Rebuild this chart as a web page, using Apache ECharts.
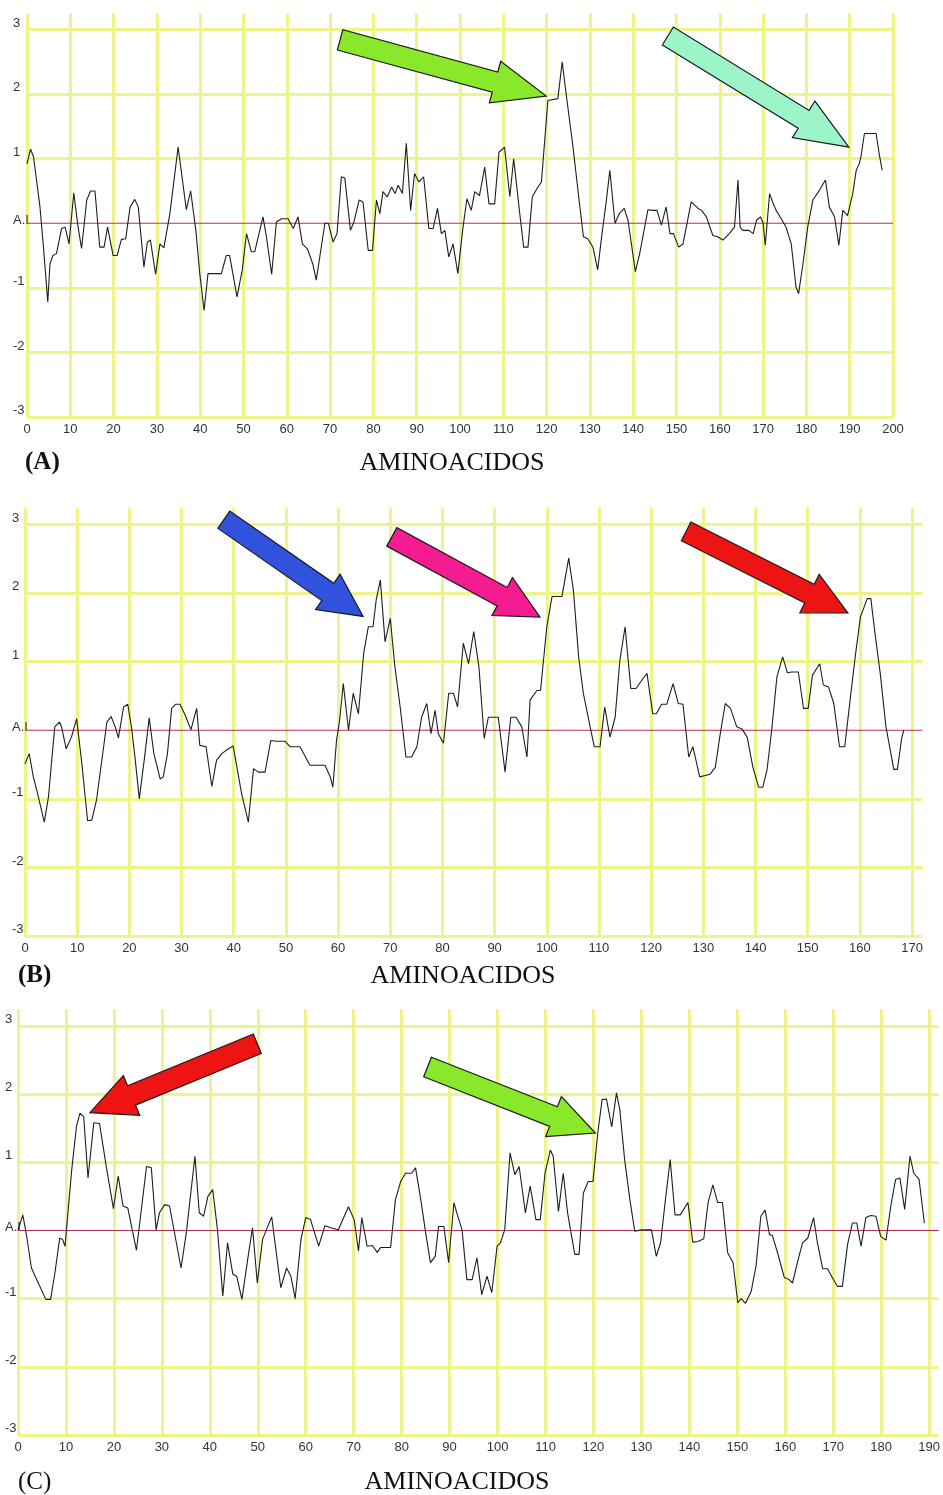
<!DOCTYPE html>
<html><head><meta charset="utf-8">
<script src="https://cdn.jsdelivr.net/npm/echarts@6/dist/echarts.min.js"></script>
<style>html,body{margin:0;padding:0;background:#fff}#c{width:943px;height:1495px}</style>
</head><body><div id="c"></div>
<script>
// ---- data (x = residue position, y = hydropathy index) ----
const yTickLabels = {'-3':'-3','-2':'-2','-1':'-1','0':'A.I','1':'1','2':'2','3':'3'};
const xAxisLabelName = 'AMINOACIDOS';
const panelTags = ['(A)','(B)','(C)'];
const xMaxTick = [200,170,190];
const zeroLevel = 0;

const profileA = [[0,0.92],[0.8,1.15],[1.5,1.03],[2.2,0.67],[3,0.25],[3.8,-0.37],[4.8,-1.22],[5.3,-0.63],[6,-0.5],[6.8,-0.47],[8,-0.08],[8.8,-0.06],[9.7,-0.32],[10.8,0.47],[11.8,-0.06],[12.6,-0.39],[13.8,0.36],[14.7,0.5],[15.7,0.5],[16.8,-0.37],[17.8,-0.37],[18.6,-0.06],[19.9,-0.5],[20.8,-0.5],[21.8,-0.25],[22.8,-0.24],[23.8,0.25],[24.9,0.37],[25.7,0.25],[27,-0.68],[27.8,-0.29],[28.5,-0.26],[29.7,-0.79],[30.7,-0.32],[31.6,-0.38],[33,0.15],[34.9,1.18],[35.7,0.77],[36.8,0.21],[37.8,0.5],[39,-0.11],[39.9,-0.78],[40.9,-1.35],[41.8,-0.78],[44.9,-0.78],[46,-0.5],[46.8,-0.5],[48.5,-1.14],[49.7,-0.73],[50.7,-0.16],[51.8,-0.44],[52.6,-0.44],[54.5,0.1],[55.3,-0.21],[56.5,-0.79],[57.6,0.02],[58.8,0.07],[60.3,0.07],[61.5,-0.08],[62.6,0.1],[63.6,-0.32],[64.8,-0.4],[66,-0.63],[66.8,-0.88],[68.8,0],[69.6,0],[70.7,-0.29],[71.6,-0.16],[72.6,0.72],[73.4,0.7],[74.7,-0.11],[75.5,0.02],[76.7,0.36],[77.6,0.33],[78.8,-0.42],[79.8,-0.42],[80.7,0.36],[81.5,0.15],[82.2,0.49],[83.2,0.41],[84.2,0.56],[85,0.46],[85.7,0.59],[86.7,0.46],[87.6,1.24],[88.6,0.2],[89.5,0.77],[90.5,0.64],[91.6,0.72],[92.8,-0.08],[93.8,-0.08],[94.8,0.23],[95.7,-0.16],[96.5,-0.11],[97.4,-0.52],[98.4,-0.32],[99.5,-0.78],[100.7,-0.06],[101.6,0.38],[102.6,0.2],[103.4,0.49],[104.5,0.43],[105.7,0.87],[106.7,0.3],[108,0.3],[109,1.1],[110.3,1.18],[111.5,0.41],[112.4,1.0],[113.8,0.15],[114.7,-0.37],[115.7,-0.37],[116.7,0.41],[117.8,0.54],[118.8,0.64],[120.3,1.9],[122.6,1.93],[123.6,2.5],[124.5,2.01],[126.1,1.18],[127.5,0.36],[128.5,-0.21],[129.5,-0.24],[130.7,-0.37],[131.8,-0.72],[132.8,-0.16],[133.8,0.35],[134.6,0.82],[135.8,0],[136.8,0.15],[137.9,0.23],[138.8,0.05],[140.5,-0.75],[141.5,-0.47],[143.4,0.21],[144.5,0.2],[145.5,0.2],[146.5,-0.03],[147.6,0.25],[148.5,-0.16],[149.3,-0.16],[150.5,-0.37],[151.5,-0.32],[153.4,0.33],[155,0.23],[155.8,0.2],[156.9,0.1],[158.4,-0.19],[159.5,-0.21],[160.7,-0.26],[162.2,-0.16],[163.4,-0.06],[164.2,0.67],[164.7,-0.06],[165.3,-0.11],[166.7,-0.11],[167.7,-0.16],[168.5,0.05],[169.4,0.1],[170,0],[170.5,-0.34],[171.5,0.46],[172.2,0.33],[173,0.2],[174.2,0.07],[175.3,-0.06],[176.5,-0.32],[177.6,-0.99],[178.2,-1.09],[179.2,-0.63],[180.3,-0.06],[181.5,0.36],[183,0.51],[184.4,0.67],[185.3,0.25],[186.5,0.1],[187.5,-0.34],[188.4,0.2],[189.5,0.12],[190.7,0.46],[191.5,0.82],[192.2,0.92],[192.6,1.03],[193.4,1.39],[196.1,1.39],[196.8,1.08],[197.5,0.82]];

const profileB = [[0,-0.49],[0.8,-0.34],[1.6,-0.68],[2.4,-0.92],[3.7,-1.34],[4.5,-0.97],[5.7,0.05],[6.6,0.12],[7,0.05],[7.9,-0.27],[8.9,-0.1],[9.9,0.17],[10.9,-0.49],[12,-1.32],[12.8,-1.31],[13.7,-1.02],[15.7,0.12],[16.5,0.2],[17.3,0.05],[17.9,-0.11],[18.9,0.34],[19.7,0.38],[20.4,0.05],[21.1,-0.41],[21.9,-1.0],[23,-0.34],[23.8,0.18],[24.7,-0.34],[25.9,-0.71],[26.5,-0.68],[27.3,-0.34],[28.1,0.32],[28.9,0.38],[29.7,0.38],[30.7,0.22],[31.8,0.01],[32.9,0.32],[33.5,-0.22],[34.7,-0.24],[35.8,-0.82],[36.7,-0.44],[37.7,-0.34],[39,-0.27],[39.9,-0.23],[41.5,-0.92],[42.8,-1.34],[43.8,-0.56],[44.7,-0.61],[46,-0.61],[47.1,-0.15],[48.2,-0.16],[49.8,-0.16],[50.8,-0.24],[52.7,-0.24],[54.6,-0.51],[57.5,-0.51],[58.5,-0.68],[59,-0.83],[59.7,-0.15],[60.3,0.15],[61,0.68],[62,0],[62.9,0.54],[63.9,0.24],[64.9,1.12],[65.8,1.51],[66.7,1.51],[67.3,1.9],[68.1,2.19],[69,1.29],[70,1.63],[70.9,0.92],[71.9,0.34],[73,-0.39],[74.1,-0.39],[75.1,-0.24],[76,0.19],[77,0.39],[77.8,-0.05],[78.6,0.29],[79.2,-0.05],[80.2,-0.19],[81.2,0.54],[82.1,0.54],[82.9,0.34],[84,1.27],[85,0.97],[86,1.44],[87,0.92],[88,-0.12],[88.8,0.19],[90.7,0.19],[92,-0.61],[93.1,0.19],[94.1,0.19],[95.2,0.05],[96.2,-0.39],[96.8,0.44],[98.1,0.58],[98.8,0.58],[100,1.51],[101,1.95],[102.9,1.95],[104.2,2.51],[105.1,2.04],[106.1,1.07],[107,0.54],[108.3,0.05],[109.1,-0.24],[110.2,-0.24],[111.1,0.34],[112.1,-0.1],[113.1,0.19],[114,1.02],[115,1.51],[116.1,0.61],[117.1,0.61],[118.2,0.73],[119.2,0.83],[120.3,0.24],[121,0.24],[122,0.38],[123,0.38],[124.2,0.68],[125.2,0.39],[126.1,0.38],[127.2,-0.39],[128,-0.24],[129.3,-0.68],[131.3,-0.64],[132.3,-0.54],[133.2,-0.07],[134.2,0.39],[135.2,0.32],[136.4,0.05],[137.4,0.02],[138.4,-0.1],[139.5,-0.54],[140.6,-0.83],[141.4,-0.83],[142.2,-0.58],[143.1,0],[144.1,0.78],[145.2,1.07],[146.1,0.84],[146.9,0.85],[148.2,0.85],[149.2,0.32],[150.1,0.32],[150.9,0.8],[152.3,0.97],[153,0.66],[154,0.63],[155,0.39],[156.1,-0.24],[157.1,-0.24],[158.2,0.49],[159.1,1.07],[160.1,1.65],[161.4,1.92],[162.1,1.92],[162.9,1.41],[163.9,0.83],[165,0.05],[166.5,-0.57],[167.2,-0.57],[168,-0.12],[168.4,0]];

const profileC = [[0,0],[1,0.23],[1.8,-0.08],[2.8,-0.55],[3.9,-0.72],[5.8,-1.01],[6.8,-1.01],[7.7,-0.62],[8.7,-0.11],[9.3,-0.13],[9.8,-0.23],[10.1,0.01],[11.2,0.89],[12.2,1.53],[12.9,1.72],[13.7,1.67],[14.6,0.77],[15.8,1.58],[17,1.57],[18.4,0.94],[19.9,0.32],[20.9,0.8],[21.9,0.36],[22.9,0.33],[24.7,-0.29],[26.8,0.94],[27.8,0.92],[28.8,0.01],[29.5,0.26],[30.6,0.38],[31.6,0.36],[34,-0.55],[35.1,-0.03],[36,0.53],[36.9,1.09],[37.8,0.26],[38.7,0.21],[39.6,0.5],[40.6,0.6],[41.6,0.01],[42.7,-0.96],[43.7,-0.18],[44.8,-0.64],[45.6,-0.67],[46.7,-1.01],[47.9,-0.42],[48.9,0.04],[49.9,-0.77],[51,-0.13],[52.9,0.2],[54.8,-0.84],[56,-0.55],[56.9,-0.67],[57.8,-1.0],[59,-0.13],[60,0.19],[61,0.16],[62.7,-0.23],[64,0.07],[65.2,0.04],[66.8,0.01],[68.9,0.35],[70.1,0.16],[71,-0.3],[71.7,0.19],[72.8,-0.23],[73.9,-0.22],[74.9,-0.32],[75.6,-0.25],[77.7,-0.25],[78.7,0.45],[79.8,0.72],[80.8,0.84],[82.1,0.84],[82.9,0.92],[84,0.45],[85,-0.03],[86,-0.47],[87,-0.38],[87.7,0.06],[88.8,0.06],[89.8,-0.47],[90.9,0.41],[91.5,0.26],[92.6,0.01],[93.6,-0.72],[94.7,-0.72],[95.7,-0.4],[96.7,-0.94],[97.8,-0.67],[98.8,-0.91],[99.9,-0.23],[100.6,-0.18],[101.5,0.01],[102.6,1.14],[103.6,0.82],[104.5,0.94],[105.8,0.26],[106.8,0.65],[108,0.16],[108.9,0.16],[109.9,0.84],[111,1.18],[111.6,1.09],[112.7,0.28],[113.7,0.84],[114.6,0.26],[116.1,-0.35],[117,-0.35],[117.9,0.55],[118.9,0.72],[119.9,0.72],[120.9,1.43],[121.8,1.92],[122.7,1.93],[123.8,1.52],[124.8,2.02],[125.5,1.77],[126.5,1.04],[127.6,0.45],[128.6,-0.01],[130,0.01],[132.1,0.01],[133.1,-0.38],[134,-0.18],[135,0.45],[136,1.04],[137,0.23],[138.1,0.23],[139.7,0.41],[140.7,-0.17],[141.8,-0.16],[143,-0.12],[143.9,0.41],[144.9,0.67],[145.9,0.41],[146.9,0.41],[148,-0.33],[149.1,-0.47],[150.1,-1.06],[150.8,-1.0],[151.7,-1.07],[152.9,-0.89],[153.9,-0.52],[154.9,0.21],[155.8,0.3],[156.7,-0.06],[157.3,-0.07],[158.4,-0.33],[159.8,-0.69],[160.8,-0.72],[161.5,-0.77],[162.6,-0.45],[163.6,-0.18],[164.7,-0.11],[165.9,0.19],[166.7,-0.18],[167.8,-0.56],[168.8,-0.56],[169.8,-0.69],[170.9,-0.82],[171.9,-0.82],[173,-0.2],[174,0.11],[174.9,0.11],[175.8,-0.23],[176.8,0.19],[177.8,0.22],[178.9,0.21],[179.9,-0.09],[181,-0.14],[182,0.36],[183,0.75],[183.9,0.77],[184.9,0.31],[186,1.09],[186.8,0.84],[187.9,0.75],[189,0.11]];

// annotation arrows, tail and tip in data coordinates of their panel
const arrowsA = [{tail:[72.3,2.84], tip:[119.9,1.97], color:'#8ae82a'},
                 {tail:[148,2.9],   tip:[189.8,1.18], color:'#9cf5c9'}];
const arrowsB = [{tail:[38.1,3.07], tip:[64.8,1.66],  color:'#3152dc'},
                 {tail:[70.3,2.82], tip:[98.7,1.65],  color:'#f51c92'},
                 {tail:[126.7,2.9], tip:[157.7,1.71], color:'#ee1414'}];
const arrowsC = [{tail:[49.9,2.74], tip:[15,1.73],    color:'#ee1414'},
                 {tail:[85.4,2.4],  tip:[120.4,1.43], color:'#8ae82a'}];

// ---- layout / style ----
const YELLOW = '#eff488';
const NONE = 'rgba(0,0,0,0)';
const layout = [
  {grid:{left:27, right:50,  top:13.4,  bottom:1078}, xMax:200, xEnd:200, yMargin:14, head:53, tag:{x:25,y:463,bold:true}, name:{x:452,y:463}},
  {grid:{left:25, right:20.5,top:507.4, bottom:559},  xMax:172, xEnd:172, yMargin:13, head:43, tag:{x:18,y:976,bold:true}, name:{x:463,y:976}},
  {grid:{left:18, right:1.5, top:1009,  bottom:60},   xMax:192, xEnd:192, yMargin:13, head:45, tag:{x:18,y:1482,bold:false}, name:{x:457,y:1482}}
];
const profiles = [profileA, profileB, profileC];
const arrowSets = [arrowsA, arrowsB, arrowsC];

const chart = echarts.init(document.getElementById('c'), null, {renderer:'canvas'});

function lineColors(n){ // last line (non-tick extent end) invisible
  const a = []; for (let i=0;i<n;i++) a.push(YELLOW); a.push(NONE); return a;
}
// y split lines: -3,-2,-1,(0 = red reference line instead),1,2,3,(extent end)
const ySplitColors = [YELLOW, YELLOW, YELLOW, NONE, YELLOW, YELLOW, YELLOW, NONE];

const series = [];
profiles.forEach((p,i) => {
  series.push({type:'line', xAxisIndex:i, yAxisIndex:i, z:4, symbol:'none', showSymbol:false, silent:true,
    data:[[0,zeroLevel],[layout[i].xEnd,zeroLevel]], lineStyle:{color:'#b0305a', width:1.2}});
  series.push({type:'line', xAxisIndex:i, yAxisIndex:i, z:5, data:p, symbol:'none', showSymbol:false,
    lineStyle:{color:'#1e1e1e', width:1.1}});
});

const option = {
  animation:false,
  backgroundColor:'#ffffff',
  grid: layout.map(l => Object.assign({containLabel:false}, l.grid)),
  xAxis: layout.map((l,i) => ({
    type:'value', gridIndex:i, min:0, max:l.xMax, interval:10,
    axisLine:{show:false, onZero:false}, axisTick:{show:false},
    splitLine:{show:true, lineStyle:{color: (l.xMax % 10 === 0) ? [YELLOW] : lineColors(Math.floor(l.xMax/10)+1), width:3}},
    axisLabel:{show:true, margin:6, color:'#333', fontSize:13, fontFamily:'Liberation Sans, Arial, sans-serif',
      formatter: v => (v % 10 === 0 && v <= xMaxTick[i]) ? String(v) : ''}
  })),
  yAxis: layout.map((l,i) => ({
    type:'value', gridIndex:i, min:-3, max:3.25, interval:1,
    axisLine:{show:false, onZero:false}, axisTick:{show:false},
    splitLine:{show:true, lineStyle:{color: ySplitColors, width:3}},
    axisLabel:{show:true, align:'left', verticalAlign:'bottom', margin:l.yMargin, color:'#333', fontSize:13,
      fontFamily:'Liberation Sans, Arial, sans-serif',
      rich:{ai:{lineHeight:6, fontSize:13, color:'#333', fontFamily:'Liberation Sans, Arial, sans-serif'}},
      formatter: v => { const t = yTickLabels[String(v)]; if (t === undefined) return ''; return v === 0 ? '{ai|' + t + '}' : t; }}
  })),
  series: series
};
chart.setOption(option);

function arrowPolygon(p0, p1, shaftW, headW, headL){
  const dx = p1[0]-p0[0], dy = p1[1]-p0[1];
  const L = Math.hypot(dx,dy); const ux = dx/L, uy = dy/L; const nx = -uy, ny = ux;
  const bx = p1[0]-ux*headL, by = p1[1]-uy*headL;
  const s = shaftW/2, h = headW/2;
  return [[p0[0]+nx*s, p0[1]+ny*s],[bx+nx*s, by+ny*s],[bx+nx*h, by+ny*h],[p1[0],p1[1]],
          [bx-nx*h, by-ny*h],[bx-nx*s, by-ny*s],[p0[0]-nx*s, p0[1]-ny*s]];
}

const graphics = [];
arrowSets.forEach((set, gi) => {
  set.forEach(a => {
    const p0 = chart.convertToPixel({gridIndex:gi}, a.tail);
    const p1 = chart.convertToPixel({gridIndex:gi}, a.tip);
    graphics.push({type:'polygon', z:10, shape:{points: arrowPolygon(p0, p1, 21, 43, layout[gi].head)},
      style:{fill:a.color, stroke:'#1a1a1a', lineWidth:1.2}});
  });
});
layout.forEach((l, gi) => {
  graphics.push({type:'text', z:10, x:l.tag.x, y:l.tag.y,
    style:{text:panelTags[gi], fill:'#111', font:(l.tag.bold?'bold ':'')+'25px "Liberation Serif", "Times New Roman", serif',
      textAlign:'left', textVerticalAlign:'middle'}});
  graphics.push({type:'text', z:10, x:l.name.x, y:l.name.y,
    style:{text:xAxisLabelName, fill:'#111', font:'26px "Liberation Serif", "Times New Roman", serif',
      textAlign:'center', textVerticalAlign:'middle'}});
});
chart.setOption({graphic: graphics});
</script>
</body></html>
